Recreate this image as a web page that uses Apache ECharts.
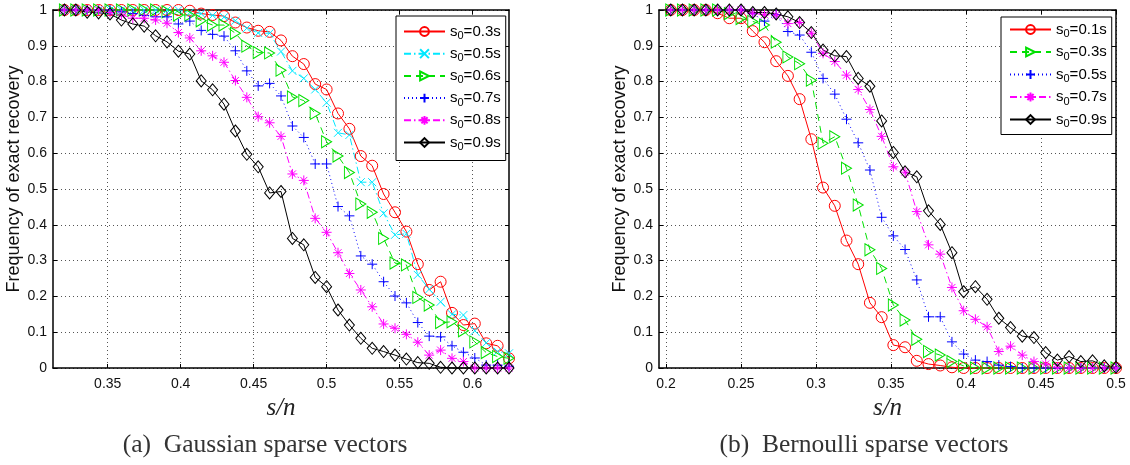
<!DOCTYPE html>
<html>
<head>
<meta charset="utf-8">
<script src="https://cdn.jsdelivr.net/npm/echarts@6/dist/echarts.min.js"></script>
<style>
html,body{margin:0;padding:0;background:#fff;}
#chart{width:1130px;height:465px;}
</style>
</head>
<body>
<div id="chart"></div>
<script>
// ---------- data ----------
const n = 128;
// (a) Gaussian: s = 41..80
const sA = [41,42,43,44,45,46,47,48,49,50,51,52,53,54,55,56,57,58,59,60,
            61,62,63,64,65,66,67,68,69,70,71,72,73,74,75,76,77,78,79,80];
const gauss03 = [1,1,1,1,1,1,1,1,1,1, 1,0.998,0.990,0.986,0.983,0.965,0.951,0.942,0.939,0.915,
                 0.871,0.849,0.793,0.778,0.711,0.668,0.592,0.565,0.486,0.435, 0.381,0.290,0.218,0.241,0.154,0.120,0.124,0.069,0.062,0.027];
const gauss05 = [1,1,1,1,1,1,1,1,1,1, 1,0.993,0.990,0.985,0.980,0.970,0.949,0.936,0.935,0.884,
                 0.830,0.809,0.778,0.741,0.657,0.651,0.519,0.519,0.432,0.372, 0.375,0.260,0.220,0.185,0.150,0.148,0.104,0.070,0.046,0.041];
const gauss06 = [1,1,1,1,1,1,1,1,1,0.995, 0.986,0.986,0.970,0.958,0.958,0.935,0.899,0.881,0.880,0.832,
                 0.757,0.747,0.711,0.632,0.592,0.546,0.458,0.435,0.362,0.293, 0.288,0.197,0.176,0.127,0.129,0.104,0.073,0.043,0.032,0.027];
const gauss07 = [1,1,1,1,1,0.995,0.990,0.985,0.981,0.981, 0.961,0.969,0.943,0.932,0.927,0.886,0.830,0.788,0.795,0.760,
                 0.676,0.644,0.570,0.570,0.451,0.425,0.313,0.290,0.241,0.201, 0.182,0.127,0.089,0.087,0.062,0.044,0.028,0.008,0.008,0.005];
const gauss08 = [1,1,1,1,0.993,0.986,0.977,0.977,0.972,0.963, 0.937,0.922,0.886,0.872,0.854,0.803,0.756,0.702,0.685,0.647,
                 0.542,0.524,0.418,0.379,0.322,0.264,0.218,0.171,0.123,0.111, 0.094,0.072,0.036,0.050,0.027,0.018,0,0,0,0];
const gauss09 = [1,1,0.994,0.992,0.989,0.972,0.961,0.955,0.928,0.911, 0.885,0.877,0.802,0.777,0.737,0.662,0.597,0.562,0.489,0.493,
                 0.362,0.344,0.253,0.227,0.162,0.120,0.083,0.055,0.046,0.036, 0.025,0.015,0.013,0.002,0,0,0,0,0,0];

// (b) Bernoulli: s = 26..64
const sB = [26,27,28,29,30,31,32,33,34,35,36,37,38,39,40,41,42,43,44,45,
            46,47,48,49,50,51,52,53,54,55,56,57,58,59,60,61,62,63,64];
const bern01 = [1,1,1,1,0.991,0.977,0.977,0.941,0.910,0.857, 0.816,0.751,0.639,0.504,0.453,0.356,0.290,0.182,0.142,0.064,
                0.058,0.020,0.011,0.007,0.002,0,0,0,0,0, 0,0,0,0,0,0,0,0,0];
const bern03 = [1,1,1,1,1,0.990,0.976,0.968,0.958,0.910, 0.869,0.850,0.804,0.628,0.646,0.558,0.455,0.330,0.278,0.176,
                0.134,0.080,0.046,0.036,0.018,0.006,0,0,0,0, 0,0,0,0,0,0,0,0,0];
const bern05 = [1,1,1,1,1,1,1,0.990,0.969,0.987, 0.940,0.930,0.882,0.809,0.765,0.695,0.629,0.553,0.421,0.369,
                0.331,0.246,0.143,0.143,0.073,0.039,0.022,0.018,0.008,0.004, 0,0,0,0,0,0,0,0,0];
const bern07 = [1,1,1,1,1,1,1,0.991,0.987,0.986, 0.962,0.965,0.935,0.879,0.856,0.818,0.778,0.722,0.647,0.562,
                0.547,0.437,0.344,0.318,0.225,0.160,0.136,0.115,0.046,0.061, 0.036,0.018,0.011,0.002,0,0,0,0,0];
const bern09 = [1,1,1,1,1,1,1,0.993,0.993,0.989, 0.981,0.965,0.937,0.888,0.872,0.870,0.809,0.787,0.690,0.602,
                0.548,0.534,0.439,0.401,0.322,0.213,0.227,0.192,0.139,0.113, 0.089,0.085,0.043,0.022,0.032,0.018,0.020,0.006,0.002];

const xTicksA = [0.35,0.4,0.45,0.5,0.55,0.6];
const xTicksB = [0.2,0.25,0.3,0.35,0.4,0.45,0.5];
const xRangeA = [40/128, 80/128];
const xRangeB = [25/128, 64/128];
const captionA = '(a)  Gaussian sparse vectors';
const captionB = '(b)  Bernoulli sparse vectors';
const yTitle = 'Frequency of exact recovery';
const xTitle = 's/n';

// ---------- styles ----------
const SANS = 'Liberation Sans';
const SERIF = 'Liberation Serif';
const MK = {
  circle: 'circle',
  cross: 'path://M0,0L10,10M0,10L10,0',
  tri: 'path://M0,0L10,6L0,12Z',
  plus: 'path://M5,0L5,10M0,5L10,5',
  star: 'path://M5,0L5,10M0,5L10,5M1.5,1.5L8.5,8.5M1.5,8.5L8.5,1.5',
  diamond: 'diamond'
};
const STY = {
  red:     {color:'#ff0000', dash:'solid',      mk:MK.circle,  size:11},
  cyan:    {color:'#00e8ff', dash:[7,3,1.5,3],  mk:MK.cross,   size:8},
  green:   {color:'#00e000', dash:[7,5],        mk:MK.tri,     size:[10,12]},
  blue:    {color:'#0000ff', dash:[1,3],        mk:MK.plus,    size:10},
  magenta: {color:'#ff00ff', dash:[7,3,1.5,3],  mk:MK.star,    size:10},
  black:   {color:'#000000', dash:'solid',      mk:MK.diamond, size:[10,12]}
};

function mkSeries(name, sArr, vals, st, axisIdx) {
  return {
    type: 'line', name: name,
    xAxisIndex: axisIdx, yAxisIndex: axisIdx,
    data: sArr.map((s, i) => [s / n, vals[i]]),
    symbol: st.mk, symbolSize: st.size,
    showAllSymbol: true, clip: false,
    lineStyle: {color: st.color, width: 1, type: st.dash},
    itemStyle: {color: 'rgba(0,0,0,0)', borderColor: st.color, borderWidth: 1},
    emphasis: {disabled: true},
    animation: false
  };
}

const seriesA = [
  ['A 0.3s', gauss03, STY.red],
  ['A 0.5s', gauss05, STY.cyan],
  ['A 0.6s', gauss06, STY.green],
  ['A 0.7s', gauss07, STY.blue],
  ['A 0.8s', gauss08, STY.magenta],
  ['A 0.9s', gauss09, STY.black]
];
const seriesB = [
  ['B 0.1s', bern01, STY.red],
  ['B 0.3s', bern03, STY.green],
  ['B 0.5s', bern05, STY.blue],
  ['B 0.7s', bern07, STY.magenta],
  ['B 0.9s', bern09, STY.black]
];

const gridA = {left: 53, top: 10, width: 456, height: 358};
const gridB = {left: 659, top: 10, width: 457, height: 358};

function xAxes(gridIndex, range, ticks) {
  const base = {
    type: 'value', gridIndex: gridIndex, min: range[0], max: range[1],
    axisLine: {show: true, onZero: false, lineStyle: {color: '#000', width: 1.5}},
    axisTick: {show: true, inside: true, length: 4, customValues: ticks, lineStyle: {color: '#000'}},
  };
  return [
    Object.assign({}, base, {
      position: 'bottom',
      axisLabel: {show: true, customValues: ticks, margin: 9, color: '#111', fontFamily: SANS, fontSize: 14},
      splitLine: {show: true, lineStyle: {color: '#555', type: [1, 3], width: 1}},
      name: xTitle, nameLocation: 'middle', nameGap: 21,
      nameTextStyle: {fontFamily: SERIF, fontStyle: 'italic', fontSize: 25, color: '#222'}
    }),
    Object.assign({}, base, {
      position: 'top', axisLabel: {show: false}, splitLine: {show: false}
    })
  ];
}
function yAxes(gridIndex) {
  const base = {
    type: 'value', gridIndex: gridIndex, min: 0, max: 1, interval: 0.1,
    axisLine: {show: true, onZero: false, lineStyle: {color: '#000', width: 1.5}},
    axisTick: {show: true, inside: true, length: 4, lineStyle: {color: '#000'}},
  };
  return [
    Object.assign({}, base, {
      position: 'left',
      axisLabel: {show: true, margin: 6, color: '#111', fontFamily: SANS, fontSize: 14},
      splitLine: {show: true, lineStyle: {color: '#555', type: [1, 3], width: 1}},
      name: yTitle, nameLocation: 'middle', nameGap: 30,
      nameTextStyle: {fontFamily: SANS, fontSize: 18, color: '#111', padding: [0, 0, 0, 20]}
    }),
    Object.assign({}, base, {
      position: 'right', axisLabel: {show: false}, splitLine: {show: false}
    })
  ];
}

function legendFmt(name) {
  return '{a|s}{b|0}{a|=' + name.slice(2) + '}';
}
const legendRich = {
  a: {fontFamily: SANS, fontSize: 15, color: '#000', lineHeight: 20, verticalAlign: 'middle'},
  b: {fontFamily: SANS, fontSize: 11, color: '#000', lineHeight: 11, verticalAlign: 'bottom'}
};
function mkLegend(names, left, top, padding, gap) {
  return {
    data: names, orient: 'vertical', left: left, top: top,
    itemWidth: 41, itemHeight: 11, itemGap: gap,
    padding: padding, borderColor: '#000', borderWidth: 1, backgroundColor: '#fff',
    selectedMode: false,
    formatter: legendFmt,
    textStyle: {rich: legendRich}
  };
}

const option = {
  animation: false,
  grid: [gridA, gridB],
  xAxis: [].concat(xAxes(0, xRangeA, xTicksA), xAxes(1, xRangeB, xTicksB)),
  yAxis: [].concat(yAxes(0), yAxes(1)),
  legend: [
    mkLegend(seriesA.map(d => d[0]), 396, 16, [8, 5, 8, 7], 4.7),
    mkLegend(seriesB.map(d => d[0]), 1001, 17, [5, 5, 5, 8], 5)
  ],
  series: [].concat(
    seriesA.map(d => mkSeries(d[0], sA, d[1], d[2], 0)),
    seriesB.map(d => mkSeries(d[0], sB, d[1], d[2], 2))
  ),
  graphic: [
    {type: 'text', x: 265, y: 445, style: {text: captionA, fontFamily: SERIF, fontSize: 25.5, fill: '#333', align: 'center', verticalAlign: 'middle'}},
    {type: 'text', x: 864, y: 445, style: {text: captionB, fontFamily: SERIF, fontSize: 25.5, fill: '#333', align: 'center', verticalAlign: 'middle'}}
  ]
};
const chart = echarts.init(document.getElementById('chart'), null, {renderer: 'canvas'});
chart.setOption(option);
</script>
</body>
</html>
